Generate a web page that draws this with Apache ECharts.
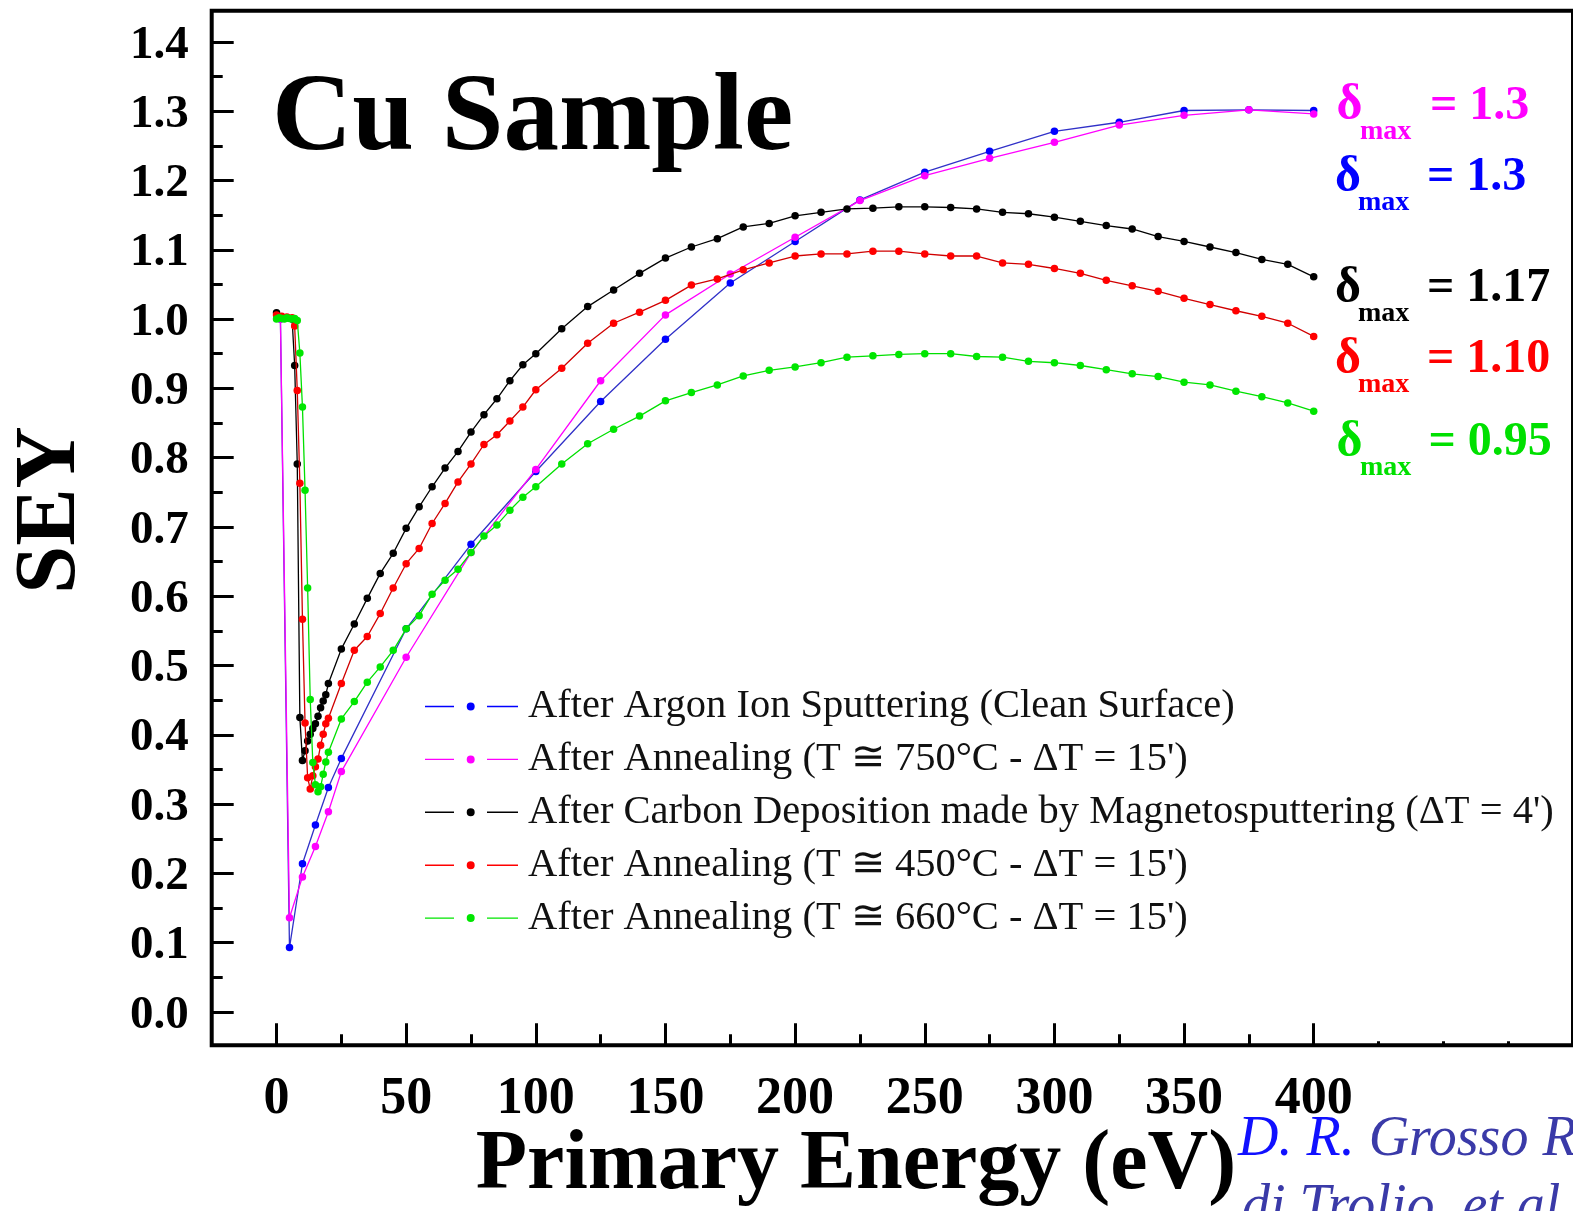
<!DOCTYPE html>
<html><head><meta charset="utf-8">
<script src="https://cdn.jsdelivr.net/npm/echarts@6/dist/echarts.min.js"></script>
<style>html,body{margin:0;padding:0;background:#fff}#c{width:1573px;height:1211px}</style>
</head><body><div id="c"></div><script>
// ---------------- DATA ----------------
const seriesNames = [
  "After Argon Ion Sputtering (Clean Surface)",
  "After Annealing (T \u2245 750\u00B0C - \u0394T = 15')",
  "After Carbon Deposition made by Magnetosputtering (\u0394T = 4')",
  "After Annealing (T \u2245 450\u00B0C - \u0394T = 15')",
  "After Annealing (T \u2245 660\u00B0C - \u0394T = 15')"
];
const energyBlue = [1.5, 5, 10, 15, 20, 25, 50, 75, 100, 125, 150, 175, 200, 225, 250, 275, 300, 325, 350, 375, 400];
const seyBlue    = [1.0, 0.093, 0.214, 0.270, 0.324, 0.366, 0.553, 0.675, 0.780, 0.881, 0.971, 1.052, 1.112, 1.172, 1.212, 1.242, 1.271, 1.284, 1.301, 1.302, 1.301];
const energyMagenta = [1.5, 5, 10, 15, 20, 25, 50, 75, 100, 125, 150, 175, 200, 225, 250, 275, 300, 325, 350, 375, 400];
const seyMagenta    = [1.0, 0.136, 0.195, 0.239, 0.289, 0.347, 0.512, 0.663, 0.783, 0.911, 1.006, 1.065, 1.118, 1.171, 1.207, 1.232, 1.255, 1.280, 1.294, 1.302, 1.296];
const energyBlack = [0, 2, 4, 6, 7, 8, 9, 10, 11, 12, 13, 14, 15, 16, 17, 18, 19, 20,
  25, 30, 35, 40, 45, 50, 55, 60, 65, 70, 75, 80, 85, 90, 95, 100,
  110, 120, 130, 140, 150, 160, 170, 180, 190, 200, 210, 220, 230, 240, 250, 260, 270, 280, 290, 300,
  310, 320, 330, 340, 350, 360, 370, 380, 390, 400];
const seyBlack = [1.009, 1.003, 1.002, 1.0, 0.933, 0.791, 0.425, 0.363, 0.377, 0.391, 0.401, 0.409, 0.416, 0.427, 0.439, 0.449, 0.458, 0.474,
  0.524, 0.560, 0.597, 0.633, 0.662, 0.698, 0.729, 0.758, 0.785, 0.809, 0.837, 0.862, 0.885, 0.911, 0.934, 0.950,
  0.986, 1.018, 1.042, 1.066, 1.088, 1.104, 1.116, 1.133, 1.138, 1.149, 1.154, 1.159, 1.160, 1.162, 1.162, 1.161, 1.159, 1.154, 1.152, 1.147,
  1.141, 1.135, 1.130, 1.119, 1.112, 1.104, 1.096, 1.086, 1.079, 1.061];
const energyRed = [0, 2, 4, 6, 7, 8, 9, 10, 11, 12, 13, 14, 15, 16, 17, 18, 19, 20,
  25, 30, 35, 40, 45, 50, 55, 60, 65, 70, 75, 80, 85, 90, 95, 100,
  110, 120, 130, 140, 150, 160, 170, 180, 190, 200, 210, 220, 230, 240, 250, 260, 270, 280, 290, 300,
  310, 320, 330, 340, 350, 360, 370, 380, 390, 400];
const seyRed = [1.006, 1.004, 1.003, 1.002, 0.990, 0.897, 0.763, 0.567, 0.417, 0.338, 0.322, 0.341, 0.354, 0.365, 0.385, 0.401, 0.416, 0.424,
  0.474, 0.522, 0.542, 0.575, 0.612, 0.647, 0.669, 0.705, 0.734, 0.765, 0.791, 0.819, 0.833, 0.853, 0.873, 0.898,
  0.929, 0.965, 0.994, 1.010, 1.027, 1.049, 1.058, 1.071, 1.081, 1.091, 1.094, 1.094, 1.098, 1.098, 1.094, 1.091, 1.091, 1.081, 1.079, 1.073,
  1.066, 1.056, 1.048, 1.040, 1.030, 1.021, 1.012, 1.004, 0.994, 0.975];
const energyGreen = [0, 1, 2, 3, 4, 5, 6, 7, 8, 9, 10, 11, 12, 13, 14, 15, 16, 17, 18, 19, 20,
  25, 30, 35, 40, 45, 50, 55, 60, 65, 70, 75, 80, 85, 90, 95, 100,
  110, 120, 130, 140, 150, 160, 170, 180, 190, 200, 210, 220, 230, 240, 250, 260, 270, 280, 290, 300,
  310, 320, 330, 340, 350, 360, 370, 380, 390, 400];
const seyGreen = [1.0, 1.002, 1.001, 1.0, 1.002, 1.001, 1.0, 1.001, 0.998, 0.951, 0.873, 0.753, 0.612, 0.451, 0.360, 0.328, 0.318, 0.325, 0.343, 0.361, 0.375,
  0.423, 0.448, 0.476, 0.498, 0.522, 0.553, 0.572, 0.603, 0.623, 0.639, 0.663, 0.687, 0.703, 0.724, 0.743, 0.758,
  0.791, 0.820, 0.841, 0.860, 0.882, 0.894, 0.905, 0.918, 0.926, 0.931, 0.937, 0.945, 0.947, 0.949, 0.950, 0.950, 0.946, 0.945, 0.939, 0.937,
  0.933, 0.927, 0.921, 0.917, 0.909, 0.905, 0.896, 0.888, 0.879, 0.867];
const deltaMaxValues = ['1.3', '1.3', '1.17', '1.10', '0.95'];
const xTickValues = [0, 50, 100, 150, 200, 250, 300, 350, 400];
const xMinorTicks = [25, 75, 125, 175, 225, 275, 325, 375];
const xTinyTicks = [425, 450, 475];
const yTickValues = [0.0, 0.1, 0.2, 0.3, 0.4, 0.5, 0.6, 0.7, 0.8, 0.9, 1.0, 1.1, 1.2, 1.3, 1.4];
const yMinorTicks = [0.05, 0.15, 0.25, 0.35, 0.45, 0.55, 0.65, 0.75, 0.85, 0.95, 1.05, 1.15, 1.25, 1.35];

// ---------------- STYLE / LAYOUT ----------------
const SERIF = '"Liberation Serif", "Times New Roman", serif';
const GL = 211.7, GT = 10.7, GW = 1366.6, GH = 1034.6;
const XMIN = -25, XMAX = 500, YMIN = -0.048, YMAX = 1.445;
const lineColors = ['#3030c8', '#ff00ff', '#000000', '#d00000', '#00e000'];
const dotColors  = ['#0000ff', '#ff00ff', '#000000', '#ff0000', '#00e600'];
const textColors = ['#ff00ff', '#0000ff', '#000000', '#ff0000', '#00e000'];
const pairs = [[energyBlue, seyBlue], [energyMagenta, seyMagenta], [energyBlack, seyBlack], [energyRed, seyRed], [energyGreen, seyGreen]];

function zip(xs, ys) { return xs.map((x, i) => [x, ys[i]]); }
function gridBox(extra) { return Object.assign({left: GL, top: GT, width: GW, height: GH, containLabel: false}, extra || {}); }
function tickAxis(gridIndex, values, len, extra) {
  return Object.assign({
    gridIndex: gridIndex, type: 'value',
    axisLine: {show: false, onZero: false}, splitLine: {show: false},
    axisTick: {show: true, inside: true, length: len, lineStyle: {width: 3, color: '#000'}, customValues: values},
    axisLabel: {show: false}
  }, extra || {});
}

const series = pairs.map((p, i) => ({
  name: seriesNames[i], type: 'line', xAxisIndex: 0, yAxisIndex: 0,
  data: zip(p[0], p[1]),
  symbol: 'circle', symbolSize: 7.5, showSymbol: true,
  lineStyle: {width: 1.3, color: lineColors[i]},
  itemStyle: {color: dotColors[i], borderWidth: 0},
  emphasis: {disabled: true}, z: 3 + i
}));

const legendIcon = 'path://M0,3.3 L29,3.3 L29,4.7 L0,4.7 Z M41.7,4 A4,4 0 1,0 49.7,4 A4,4 0 1,0 41.7,4 Z M62,3.3 L93,3.3 L93,4.7 L62,4.7 Z';

const graphics = [
  {type: 'text', x: 272, y: 120, style: {text: 'Cu Sample', font: 'bold 111px ' + SERIF, fill: '#000', align: 'left', verticalAlign: 'middle'}},
  {type: 'text', x: 856, y: 1166, style: {text: 'Primary Energy (eV)', font: 'bold 84px ' + SERIF, fill: '#000', align: 'center', verticalAlign: 'middle'}},
  {type: 'text', x: 52, y: 510, rotation: Math.PI / 2, style: {text: 'SEY', font: 'bold 86px ' + SERIF, fill: '#000', align: 'center', verticalAlign: 'middle'}},
  {type: 'text', x: 1238, y: 1140, style: {
    text: '{a|D. R. }{b|Grosso Ruiz}', align: 'left', verticalAlign: 'middle',
    rich: {a: {font: 'italic 56px ' + SERIF, fill: '#1010ff'}, b: {font: 'italic 56px ' + SERIF, fill: '#3a3aa8'}}}},
  {type: 'text', x: 1242, y: 1208, style: {text: 'di Trolio, et al.', font: 'italic 56px ' + SERIF, fill: '#3a3aa8', align: 'left', verticalAlign: 'middle'}}
];
const annY = [106.5, 178, 289, 360, 443];
const annDX = [1336.5, 1335, 1335, 1335, 1336.5];
const annMX = [1360, 1358, 1358, 1358, 1360];
const annEX = [1430, 1427, 1427, 1427, 1428.5];
deltaMaxValues.forEach((v, i) => {
  graphics.push({type: 'text', x: annDX[i], y: annY[i], style: {text: '\u03B4', font: 'bold 50px ' + SERIF, fill: textColors[i], align: 'left', verticalAlign: 'middle'}});
  graphics.push({type: 'text', x: annMX[i], y: annY[i] + 25, style: {text: 'max', font: 'bold 28px ' + SERIF, fill: textColors[i], align: 'left', verticalAlign: 'middle'}});
  graphics.push({type: 'text', x: annEX[i], y: annY[i], style: {text: '= ' + v, font: 'bold 48px ' + SERIF, fill: textColors[i], align: 'left', verticalAlign: 'middle'}});
});

const option = {
  animation: false,
  backgroundColor: '#ffffff',
  grid: [
    gridBox({show: true, borderColor: '#000', borderWidth: 4, backgroundColor: 'transparent'}),
    gridBox(), gridBox()
  ],
  xAxis: [
    tickAxis(0, xTickValues, 22, {min: XMIN, max: XMAX, position: 'bottom',
      axisLabel: {show: true, customValues: xTickValues, margin: 28, color: '#000', fontFamily: SERIF, fontWeight: 'bold', fontSize: 52}}),
    tickAxis(1, xMinorTicks, 11, {min: XMIN, max: XMAX, position: 'bottom'}),
    tickAxis(2, xTinyTicks, 4, {min: XMIN, max: XMAX, position: 'bottom'})
  ],
  yAxis: [
    tickAxis(0, yTickValues, 22, {min: YMIN, max: YMAX, position: 'left',
      axisLabel: {show: true, customValues: yTickValues, margin: 23,
        formatter: v => '{n|' + v.toFixed(1) + '}',
        rich: {n: {color: '#000', fontFamily: SERIF, fontWeight: 'bold', fontSize: 47, padding: [7, 0, 0, 0]}}}}),
    tickAxis(1, yMinorTicks, 11, {min: YMIN, max: YMAX, position: 'left'}),
    {gridIndex: 2, type: 'value', min: YMIN, max: YMAX, show: false, axisLine: {onZero: false}}
  ],
  legend: {
    show: true, orient: 'vertical', left: 425, top: 686, padding: 0,
    itemWidth: 93, itemHeight: 8, itemGap: 11.9, icon: legendIcon,
    itemStyle: {borderWidth: 0},
    textStyle: {fontFamily: SERIF, fontSize: 40.5, color: '#111', lineHeight: 40, padding: [0, 0, 0, 5]},
    data: seriesNames, selectedMode: false
  },
  series: series,
  graphic: {elements: graphics}
};
const chart = echarts.init(document.getElementById('c'), null, {renderer: 'canvas'});
chart.setOption(option);
</script></body></html>
